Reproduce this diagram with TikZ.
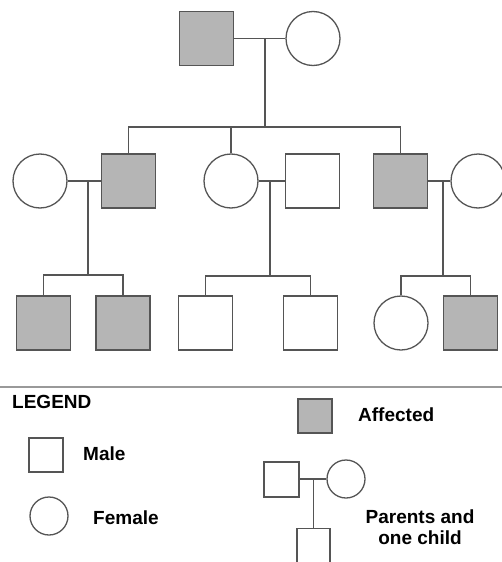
\documentclass[tikz,border=0pt]{standalone}
\usepackage{fontspec}
\setmainfont{Liberation Sans}
\definecolor{ln}{HTML}{555555}
\definecolor{aff}{HTML}{B5B5B5}
\begin{document}
\begin{tikzpicture}[x=1pt,y=-1pt,
  line/.style={draw=ln,line width=1.3pt},
  male/.style={rectangle,draw=ln,line width=1.3pt,fill=white,minimum width=54pt,minimum height=54pt,inner sep=0pt},
  female/.style={circle,draw=ln,line width=1.3pt,fill=white,minimum size=54pt,inner sep=0pt},
  affected/.style={fill=aff},
  lbl/.style={font=\fontsize{19}{21}\selectfont\bfseries,text=black,inner sep=0pt,align=center}]
\useasboundingbox (0,0) rectangle (502,562);
\fill[white] (0,0) rectangle (502,562);
\begin{scope}
\clip (0,0) rectangle (502,562);
% generation 1
\node[male,affected] (gf) at (206.5,38.5) {};
\node[female] (gm) at (313,38.5) {};
% generation 2
\node[female] (w1) at (40,181) {};
\node[male,affected] (s1) at (128.5,181) {};
\node[female] (d2) at (231,181) {};
\node[male] (h2) at (312.5,181) {};
\node[male,affected] (s3) at (400.5,181) {};
\node[female] (w3) at (478,181) {};
% generation 3
\node[male,affected] (c1) at (43.5,323) {};
\node[male,affected] (c2) at (123,323) {};
\node[male] (c3) at (205.5,323) {};
\node[male] (c4) at (310.5,323) {};
\node[female] (c5) at (401,323) {};
\node[male,affected] (c6) at (470.5,323) {};
% connectors gen 1
\draw[line] (gf.east) -- (gm.west);
\coordinate (m1) at (265,38.5);
\coordinate (b1) at (265,127);
\coordinate (b1l) at (128.5,127);
\coordinate (b1r) at (400.5,127);
\draw[line] (m1) -- (b1);
\draw[line] (s1.north) -- (b1l) -- (b1r) -- (s3.north);
\draw[line] (d2.north) -- (d2.north |- b1);
% connectors gen 2
\draw[line] (w1.east) -- (s1.west);
\coordinate (m2) at (88,181);
\coordinate (b2) at (88,275);
\draw[line] (m2) -- (b2);
\draw[line] (c1.north) -- (c1.north |- b2) -- (c2.north |- b2) -- (c2.north);
\draw[line] (d2.east) -- (h2.west);
\coordinate (m3) at (270,181);
\coordinate (b3) at (270,276);
\draw[line] (m3) -- (b3);
\draw[line] (c3.north) -- (c3.north |- b3) -- (c4.north |- b3) -- (c4.north);
\draw[line] (s3.east) -- (w3.west);
\coordinate (m4) at (443,181);
\coordinate (b4) at (443,276);
\draw[line] (m4) -- (b4);
\draw[line] (c5.north) -- (c5.north |- b4) -- (c6.north |- b4) -- (c6.north);
% separator
\coordinate (sepl) at (0,387);
\coordinate (sepr) at (502,387);
\draw[draw=gray!80,line width=2pt] (sepl) -- (sepr);
% legend
\node[lbl,anchor=west] (leg) at (12,402) {LEGEND};
\node[male,minimum width=34pt,minimum height=34pt] (lm) at (46,455) {};
\node[lbl,anchor=west] (lmt) at (83,454) {Male};
\node[female,minimum size=38pt] (lf) at (49,516) {};
\node[lbl,anchor=west] (lft) at (93,518) {Female};
\node[male,affected,minimum width=34pt,minimum height=34pt] (la) at (315,416) {};
\node[lbl,anchor=west] (lat) at (358,415) {Affected};
\node[male,minimum width=35pt,minimum height=35pt] (lp) at (281.5,479.5) {};
\node[female,minimum size=38pt] (lq) at (346,479) {};
\node[male,minimum width=33pt,minimum height=35pt] (lc) at (313.5,546) {};
\draw[line] (lp.east |- lq.west) -- (lq.west);
\coordinate (lmid) at (313.5,479);
\draw[line] (lmid) -- (lc.north);
\node[lbl] (lpt) at (420,527) {Parents and\\one child};
\end{scope}
\end{tikzpicture}
\end{document}
